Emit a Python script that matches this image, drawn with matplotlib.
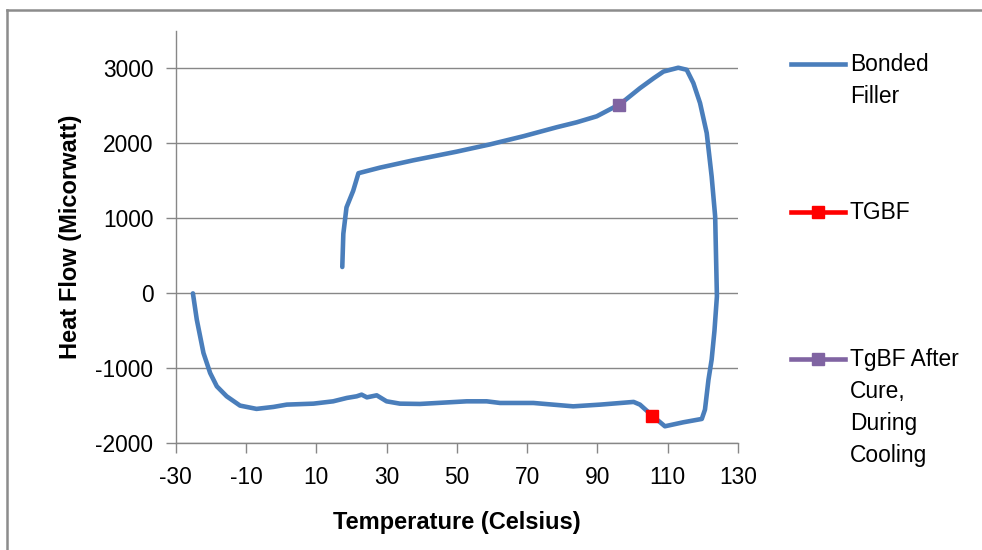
import matplotlib
matplotlib.use("Agg")
import matplotlib.pyplot as plt
from matplotlib.lines import Line2D

# ---- data ----
temperature = [17.4, 17.7, 18.6, 20.5, 22.0, 28.1, 37.6, 49.9, 59.4, 69.0, 78.4, 84.1,
               89.8, 96.1, 97.4, 102.1, 106.0, 108.8, 113.0, 115.4, 117.3, 119.2, 121.1,
               122.5, 123.5, 124.0, 123.3, 122.5, 121.6, 120.6, 119.7, 114.4, 109.2, 105.6,
               102.1, 100.3, 90.8, 83.1, 71.8, 62.3, 58.5, 52.8, 39.5, 33.8, 30.0, 27.2,
               24.4, 22.9, 21.5, 18.7, 14.8, 9.2, 1.6, -2.2, -7.0, -11.7, -15.5, -18.3,
               -20.2, -22.1, -24.0, -25.1]
heat_flow = [352, 795, 1147, 1368, 1603, 1677, 1775, 1890, 1987, 2097, 2216, 2282,
             2362, 2517, 2560, 2737, 2870, 2959, 3010, 2983, 2805, 2539, 2139,
             1560, 1027, -40, -500, -884, -1151, -1551, -1675, -1720, -1773, -1631,
             -1484, -1448, -1484, -1507, -1462, -1462, -1440, -1440, -1475, -1471, -1440, -1360,
             -1387, -1351, -1373, -1395, -1440, -1471, -1484, -1515, -1541, -1497, -1373, -1240,
             -1062, -795, -350, 0]

tgbf_x = [105.6]
tgbf_y = [-1631]
tgbf_cool_x = [96.1]
tgbf_cool_y = [2517]

series_labels = ["Bonded\nFiller", "TGBF", "TgBF After\nCure,\nDuring\nCooling"]
series_colors = ["#4A7EBB", "#FF0000", "#8064A2"]

x_ticks = [-30, -10, 10, 30, 50, 70, 90, 110, 130]
y_ticks = [-2000, -1000, 0, 1000, 2000, 3000]

plt.rcParams['font.family'] = ['Liberation Sans', 'DejaVu Sans']

W, H = 982, 550
FS = 16.4
fig = plt.figure(figsize=(W / 100, H / 100), dpi=100)
ax = fig.add_axes([175.7 / W, 1 - 443.3 / H, (738 - 175.7) / W, (443.3 - 31) / H])

ax.plot(temperature, heat_flow, color=series_colors[0], lw=3.3, solid_joinstyle='round',
        solid_capstyle='round', zorder=3)
ax.plot(tgbf_x, tgbf_y, color=series_colors[1], marker='s', ms=8.5, lw=0, zorder=4)
ax.plot(tgbf_cool_x, tgbf_cool_y, color=series_colors[2], marker='s', ms=8.5, lw=0, zorder=4)

ax.set_xlim(-30, 130)
ax.set_ylim(-2000, 3500)
ax.set_xticks(x_ticks)
ax.set_yticks(y_ticks)
ax.set_xticklabels([str(v) for v in x_ticks])
ax.set_yticklabels([str(v) for v in y_ticks])
ax.grid(axis='y', color='#878787', lw=1.0)
ax.set_axisbelow(True)
for s in ['top', 'right']:
    ax.spines[s].set_visible(False)
for s in ['left', 'bottom']:
    ax.spines[s].set_color('#878787')
    ax.spines[s].set_linewidth(1.0)
ax.tick_params(axis='both', direction='out', length=7, width=1.0, color='#878787',
               labelsize=FS)
ax.tick_params(axis='x', pad=9)
ax.tick_params(axis='y', pad=9)
for t in ax.get_xticklabels() + ax.get_yticklabels():
    t.set_color('black')

ax.set_xlabel("Temperature (Celsius)", fontsize=17, fontweight='bold')
ax.set_ylabel("Heat Flow (Micorwatt)", fontsize=17, fontweight='bold')
ax.xaxis.set_label_coords(0.5, (443.3 - 511) / 412.3)
ax.yaxis.set_label_coords((82 - 175.7) / 562.3, 0.5)

# ---- legend (manual layout, Excel-like) ----
leg_y = [64, 212, 359]
for lab, col, yy, mk in zip(series_labels, series_colors, leg_y, [False, True, True]):
    yf = 1 - yy / H
    fig.add_artist(Line2D([791 / W, 845 / W], [yf, yf], color=col, lw=3.3,
                          transform=fig.transFigure))
    if mk:
        fig.add_artist(Line2D([818 / W], [yf], color=col, marker='s', ms=8, lw=0,
                              transform=fig.transFigure))
    fig.text(850 / W, 1 - (yy - 11) / H, lab, fontsize=FS, va='top', ha='left',
             linespacing=1.5)

# chart frame
fig.add_artist(Line2D([7 / W, 7 / W], [0, 1 - 10 / H], color='#8c8c8c', lw=1.8,
                      transform=fig.transFigure))
fig.add_artist(Line2D([7 / W, 1], [1 - 10 / H, 1 - 10 / H], color='#8c8c8c', lw=1.8,
                      transform=fig.transFigure))

fig.savefig("out.png", dpi=100, facecolor='white')
